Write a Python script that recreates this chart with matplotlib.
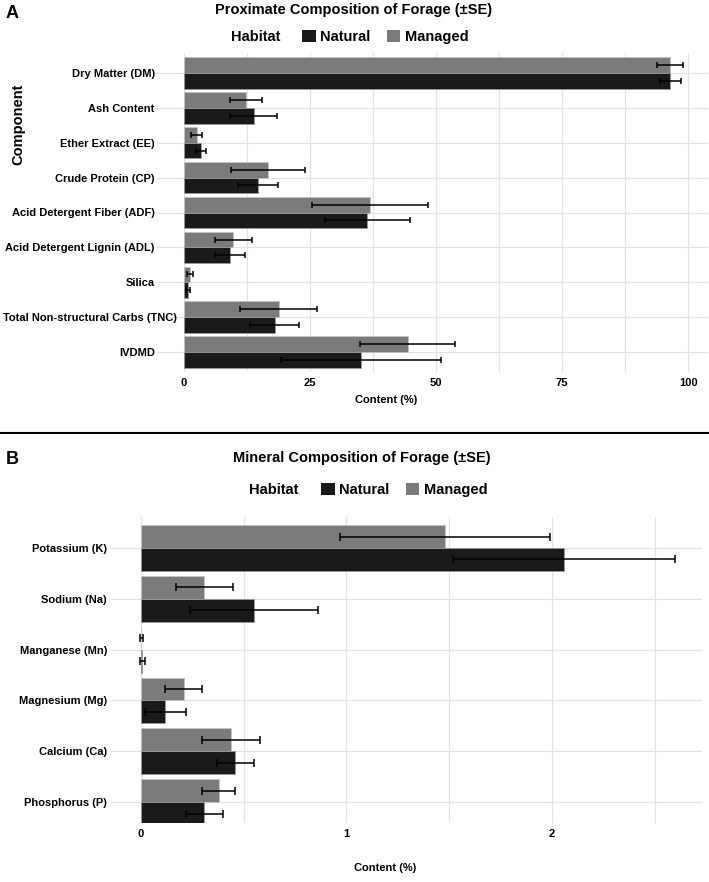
import matplotlib
matplotlib.use("Agg")
import matplotlib.pyplot as plt
from matplotlib.patches import Patch
from matplotlib.transforms import ScaledTranslation
import numpy as np

plt.rcParams['font.family'] = ['Liberation Sans', 'DejaVu Sans']
plt.rcParams['font.weight'] = 'bold'

# ---------------- Data ----------------
prox_components = ["Dry Matter (DM)", "Ash Content", "Ether Extract (EE)", "Crude Protein (CP)",
                   "Acid Detergent Fiber (ADF)", "Acid Detergent Lignin (ADL)", "Silica",
                   "Total Non-structural Carbs (TNC)", "IVDMD"]
prox_natural = [96.5, 13.8, 3.4, 14.7, 36.4, 9.1, 0.75, 18.0, 35.1]
prox_natural_se = [2.1, 4.7, 1.05, 4.0, 8.5, 2.95, 0.4, 4.85, 15.9]
prox_managed = [96.4, 12.3, 2.5, 16.7, 36.9, 9.8, 1.2, 18.8, 44.4]
prox_managed_se = [2.65, 3.1, 1.1, 7.35, 11.6, 3.7, 0.55, 7.65, 9.4]
prox_ticks = [0, 25, 50, 75, 100]

min_components = ["Potassium (K)", "Sodium (Na)", "Manganese (Mn)", "Magnesium (Mg)",
                  "Calcium (Ca)", "Phosphorus (P)"]
min_natural = [2.06, 0.55, 0.008, 0.12, 0.46, 0.31]
min_natural_se = [0.54, 0.31, 0.012, 0.10, 0.09, 0.09]
min_managed = [1.48, 0.31, 0.003, 0.21, 0.44, 0.38]
min_managed_se = [0.51, 0.14, 0.006, 0.09, 0.14, 0.08]
min_ticks = [0, 1, 2]

habitats = ["Natural", "Managed"]
colors = {"Natural": "#1a1a1a", "Managed": "#7b7b7b"}

W, H = 709, 882
fig = plt.figure(figsize=(W / 100, H / 100), dpi=100)


def ax_at(x0, y0, x1, y1):
    return fig.add_axes([x0 / W, 1 - y1 / H, (x1 - x0) / W, (y1 - y0) / H])


def ftext(x, y, s, **kw):
    fig.text(x / W, 1 - y / H, s, **kw)


def draw_panel(ax, cats, nat, nat_se, man, man_se, ticks, xlim, ylim, capsize, tick_fs,
               ytick_len, ytick_pad):
    y = np.arange(len(cats))
    h = 0.45
    ax.barh(y - h / 2, man, height=h, color=colors["Managed"], edgecolor="#c4c4c4", linewidth=0.6, zorder=2)
    ax.barh(y + h / 2, nat, height=h, color=colors["Natural"], edgecolor="#9a9a9a", linewidth=0.6, zorder=2)
    ax.errorbar(man, y - h / 2, xerr=man_se, fmt="none", ecolor="black", elinewidth=1.1,
                capsize=capsize, capthick=1.1, zorder=3)
    ax.errorbar(nat, y + h / 2, xerr=nat_se, fmt="none", ecolor="black", elinewidth=1.1,
                capsize=capsize, capthick=1.1, zorder=3)
    ax.set_xlim(*xlim)
    ax.set_ylim(*ylim)
    ax.set_yticks(y)
    ax.set_yticklabels(cats, fontsize=tick_fs, fontweight="bold")
    ax.set_xticks(ticks)
    ax.set_xticklabels([str(t) for t in ticks], fontsize=tick_fs, fontweight="bold")
    minor = [(ticks[i] + ticks[i + 1]) / 2 for i in range(len(ticks) - 1)]
    minor.append(ticks[-1] + (ticks[1] - ticks[0]) / 2)
    ax.set_xticks([m for m in minor if m < xlim[1]], minor=True)
    ax.grid(True, which="both", axis="x", color="#e2e2e2", linewidth=0.9, zorder=0)
    ax.grid(True, which="major", axis="y", color="#e2e2e2", linewidth=0.9, zorder=0)
    ax.set_axisbelow(True)
    for s in ax.spines.values():
        s.set_visible(False)
    ax.tick_params(axis="y", length=ytick_len, color="#e2e2e2", width=0.9, pad=ytick_pad)
    ax.tick_params(axis="x", length=0, pad=4)
    ax.tick_params(axis="x", which="minor", length=0)


# ---------------- Panel A ----------------
axA = ax_at(159, 53, 708, 372)
draw_panel(axA, prox_components, prox_natural, prox_natural_se, prox_managed, prox_managed_se,
           prox_ticks, (-4.95, 103.95), (8.57, -0.57), 2.3, 8, 2, 1)
# the long TNC label sits further right in the reference
for lab in axA.get_yticklabels():
    if lab.get_text().startswith("Total"):
        lab.set_transform(lab.get_transform() + ScaledTranslation(22 / 100, 0, fig.dpi_scale_trans))
ftext(12, 13, "A", fontsize=13, fontweight="bold", ha="center", va="center")
ftext(354, 10, "Proximate Composition of Forage (\u00b1SE)", fontsize=10.5, fontweight="bold",
      ha="center", va="center")
ftext(386, 400, "Content (%)", fontsize=8, fontweight="bold", ha="center", va="center")
ftext(18, 124, "Component", fontsize=10.5, fontweight="bold", ha="center", va="center", rotation=90)

# ---------------- Panel B ----------------
axB = ax_at(114, 517, 702, 823)
draw_panel(axB, min_components, min_natural, min_natural_se, min_managed, min_managed_se,
           min_ticks, (-0.13, 2.73), (5.41, -0.61), 3.0, 8, 3, 2)
ftext(12, 460, "B", fontsize=13, fontweight="bold", ha="center", va="center")
ftext(362, 458, "Mineral Composition of Forage (\u00b1SE)", fontsize=10.5, fontweight="bold",
      ha="center", va="center")
ftext(385, 868, "Content (%)", fontsize=8, fontweight="bold", ha="center", va="center")

# ---------------- Legends ----------------
handles = [Patch(facecolor=colors[h], edgecolor="none") for h in habitats]
for (hx, hy, lx) in [(231, 37, 302), (249, 490, 321)]:
    ftext(hx, hy, "Habitat", fontsize=10.5, fontweight="bold", ha="left", va="center")
    fig.legend(handles, habitats, loc="center left", bbox_to_anchor=(lx / W, 1 - hy / H),
               ncol=2, frameon=False, handlelength=0.95, handleheight=0.95,
               handletextpad=0.3, columnspacing=1.1, borderpad=0, borderaxespad=0,
               prop={"weight": "bold", "size": 10.5})

# ---------------- Separator ----------------
fig.add_artist(plt.Line2D([0, 1], [1 - 433 / H, 1 - 433 / H], color="black", linewidth=1.5))

fig.savefig("out.png", dpi=100, facecolor="white")
